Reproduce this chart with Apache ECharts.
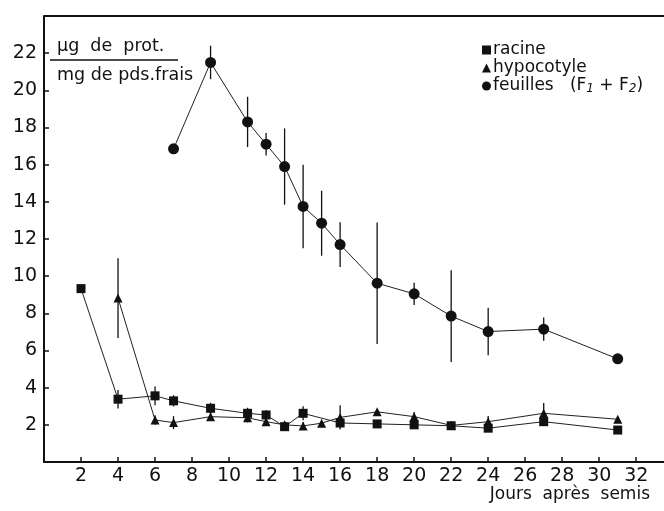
<!DOCTYPE html>
<html>
<head>
<meta charset="utf-8">
<script src="https://cdn.jsdelivr.net/npm/echarts@6/dist/echarts.min.js"></script>
<style>
html,body{margin:0;padding:0;background:#fff;}
#chart{width:664px;height:511px;}
</style>
</head>
<body>
<div id="chart"></div>
<script>
// ---- data ----
const racineX   = [2, 4, 6, 7, 9, 11, 12, 13, 14, 16, 18, 20, 22, 24, 27, 31];
const racineY   = [9.33, 3.38, 3.56, 3.29, 2.89, 2.62, 2.53, 1.9, 2.62, 2.1, 2.05, 2.0, 1.95, 1.82, 2.17, 1.72];
const racineErr = [0, 0.5, 0.5, 0.3, 0.3, 0.3, 0.25, 0.2, 0.38, 0.25, 0.15, 0.2, 0.1, 0.15, 0.15, 0];

const hypoX   = [4, 6, 7, 9, 11, 12, 13, 14, 15, 16, 18, 20, 22, 24, 27, 31];
const hypoY   = [8.82, 2.26, 2.12, 2.44, 2.38, 2.17, 2.0, 1.94, 2.09, 2.4, 2.7, 2.44, 1.97, 2.17, 2.62, 2.3];
const hypoErr = [2.15, 0.25, 0.35, 0.2, 0.25, 0.2, 0.2, 0.2, 0, 0.65, 0, 0.25, 0.2, 0.3, 0.55, 0];

const feuilX   = [7, 9, 11, 12, 13, 14, 15, 16, 18, 20, 22, 24, 27, 31];
const feuilY   = [16.85, 21.5, 18.3, 17.1, 15.9, 13.75, 12.85, 11.7, 9.62, 9.05, 7.85, 7.02, 7.15, 5.55];
const feuilErr = [0.15, 0.9, 1.35, 0.6, 2.05, 2.25, 1.75, 1.2, 3.27, 0.6, 2.47, 1.28, 0.62, 0];

const xTickLabels = [2, 4, 6, 8, 10, 12, 14, 16, 18, 20, 22, 24, 26, 28, 30, 32];
const yTickLabels = [2, 4, 6, 8, 10, 12, 14, 16, 18, 20, 22];

const seriesNames = ['racine', 'hypocotyle', 'feuilles'];
const xTitle = 'Jours  après  semis';
const unitTop = 'µg  de  prot.';
const unitBottom = 'mg de pds.frais';

// ---- build ----
const FONT = 'DejaVu Sans';
const INK = '#111';
const zip = (xs, ys) => xs.map((x, i) => [x, ys[i]]);
const errData = (xs, ys, es) => xs.map((x, i) => [x, ys[i] - es[i], ys[i] + es[i]]);

function errSeries(data) {
  return {
    type: 'custom',
    data: data,
    encode: { x: 0, y: [1, 2] },
    silent: true,
    z: 1,
    renderItem: function (params, api) {
      const lo = api.coord([api.value(0), api.value(1)]);
      const hi = api.coord([api.value(0), api.value(2)]);
      return {
        type: 'line',
        shape: { x1: lo[0], y1: lo[1], x2: hi[0], y2: hi[1] },
        style: { stroke: INK, lineWidth: 1.3 }
      };
    }
  };
}

function lineSeries(name, data, symbol, size) {
  return {
    name: name,
    type: 'line',
    data: data,
    symbol: symbol,
    symbolSize: size,
    showAllSymbol: true,
    z: 3,
    lineStyle: { color: '#222', width: 1 },
    itemStyle: { color: INK, borderWidth: 0 },
    emphasis: { disabled: true },
    animation: false
  };
}

const chart = echarts.init(document.getElementById('chart'), null, { renderer: 'canvas' });
chart.setOption({
  animation: false,
  backgroundColor: '#fff',
  grid: { left: 44, top: 16, width: 620, height: 446, containLabel: false },
  xAxis: {
    type: 'value',
    min: 0, max: 33.5,
    axisLine: { show: true, lineStyle: { color: INK, width: 2 } },
    axisTick: { show: true, inside: true, length: 5, lineStyle: { color: INK, width: 1.5 },
                customValues: xTickLabels },
    splitLine: { show: false },
    axisLabel: {
      margin: 5,
      fontFamily: FONT, fontSize: 19, color: INK,
      customValues: xTickLabels,
      formatter: v => (xTickLabels.indexOf(v) >= 0 ? String(v) : '')
    }
  },
  yAxis: {
    type: 'value',
    min: 0, max: 24, interval: 2,
    axisLine: { show: true, lineStyle: { color: INK, width: 2 } },
    axisTick: { show: true, inside: true, length: 5, lineStyle: { color: INK, width: 1.5 } },
    splitLine: { show: false },
    axisLabel: {
      margin: 7,
      padding: [0, 0, 8, 0],
      fontFamily: FONT, fontSize: 19, color: INK,
      formatter: v => (yTickLabels.indexOf(v) >= 0 ? String(v) : '')
    }
  },
  legend: {
    orient: 'vertical',
    left: 477, top: 36,
    itemWidth: 9, itemHeight: 9, itemGap: 0,
    selectedMode: false,
    data: [
      { name: 'racine', icon: 'rect' },
      { name: 'hypocotyle', icon: 'triangle' },
      { name: 'feuilles', icon: 'circle' }
    ],
    formatter: function (n) {
      return n === 'feuilles' ? 'feuilles   (F{s|1} + F{s|2})' : n;
    },
    textStyle: {
      fontFamily: FONT, fontSize: 17, color: INK, lineHeight: 18, padding: [0, 0, 0, -3],
      rich: { s: { fontFamily: FONT, fontSize: 12, fontStyle: 'italic', color: INK, padding: [5, 0, 0, 0] } }
    }
  },
  graphic: [
    { type: 'line', shape: { x1: 44, y1: 16, x2: 664, y2: 16 }, style: { stroke: INK, lineWidth: 2 } },
    { type: 'text', left: 57, top: 37, style: { text: unitTop, font: '17.5px ' + FONT, fill: INK } },
    { type: 'line', shape: { x1: 50, y1: 60, x2: 178, y2: 60 }, style: { stroke: INK, lineWidth: 1.3 } },
    { type: 'text', left: 57, top: 66, style: { text: unitBottom, font: '17.5px ' + FONT, fill: INK } },
    { type: 'text', right: 14, top: 486, style: { text: xTitle, font: '17px ' + FONT, fill: INK } }
  ],
  series: [
    errSeries(errData(racineX, racineY, racineErr)),
    errSeries(errData(hypoX, hypoY, hypoErr)),
    errSeries(errData(feuilX, feuilY, feuilErr)),
    lineSeries(seriesNames[0], zip(racineX, racineY), 'rect', 9),
    lineSeries(seriesNames[1], zip(hypoX, hypoY), 'triangle', 9),
    lineSeries(seriesNames[2], zip(feuilX, feuilY), 'circle', 11)
  ]
});
</script>
</body>
</html>
